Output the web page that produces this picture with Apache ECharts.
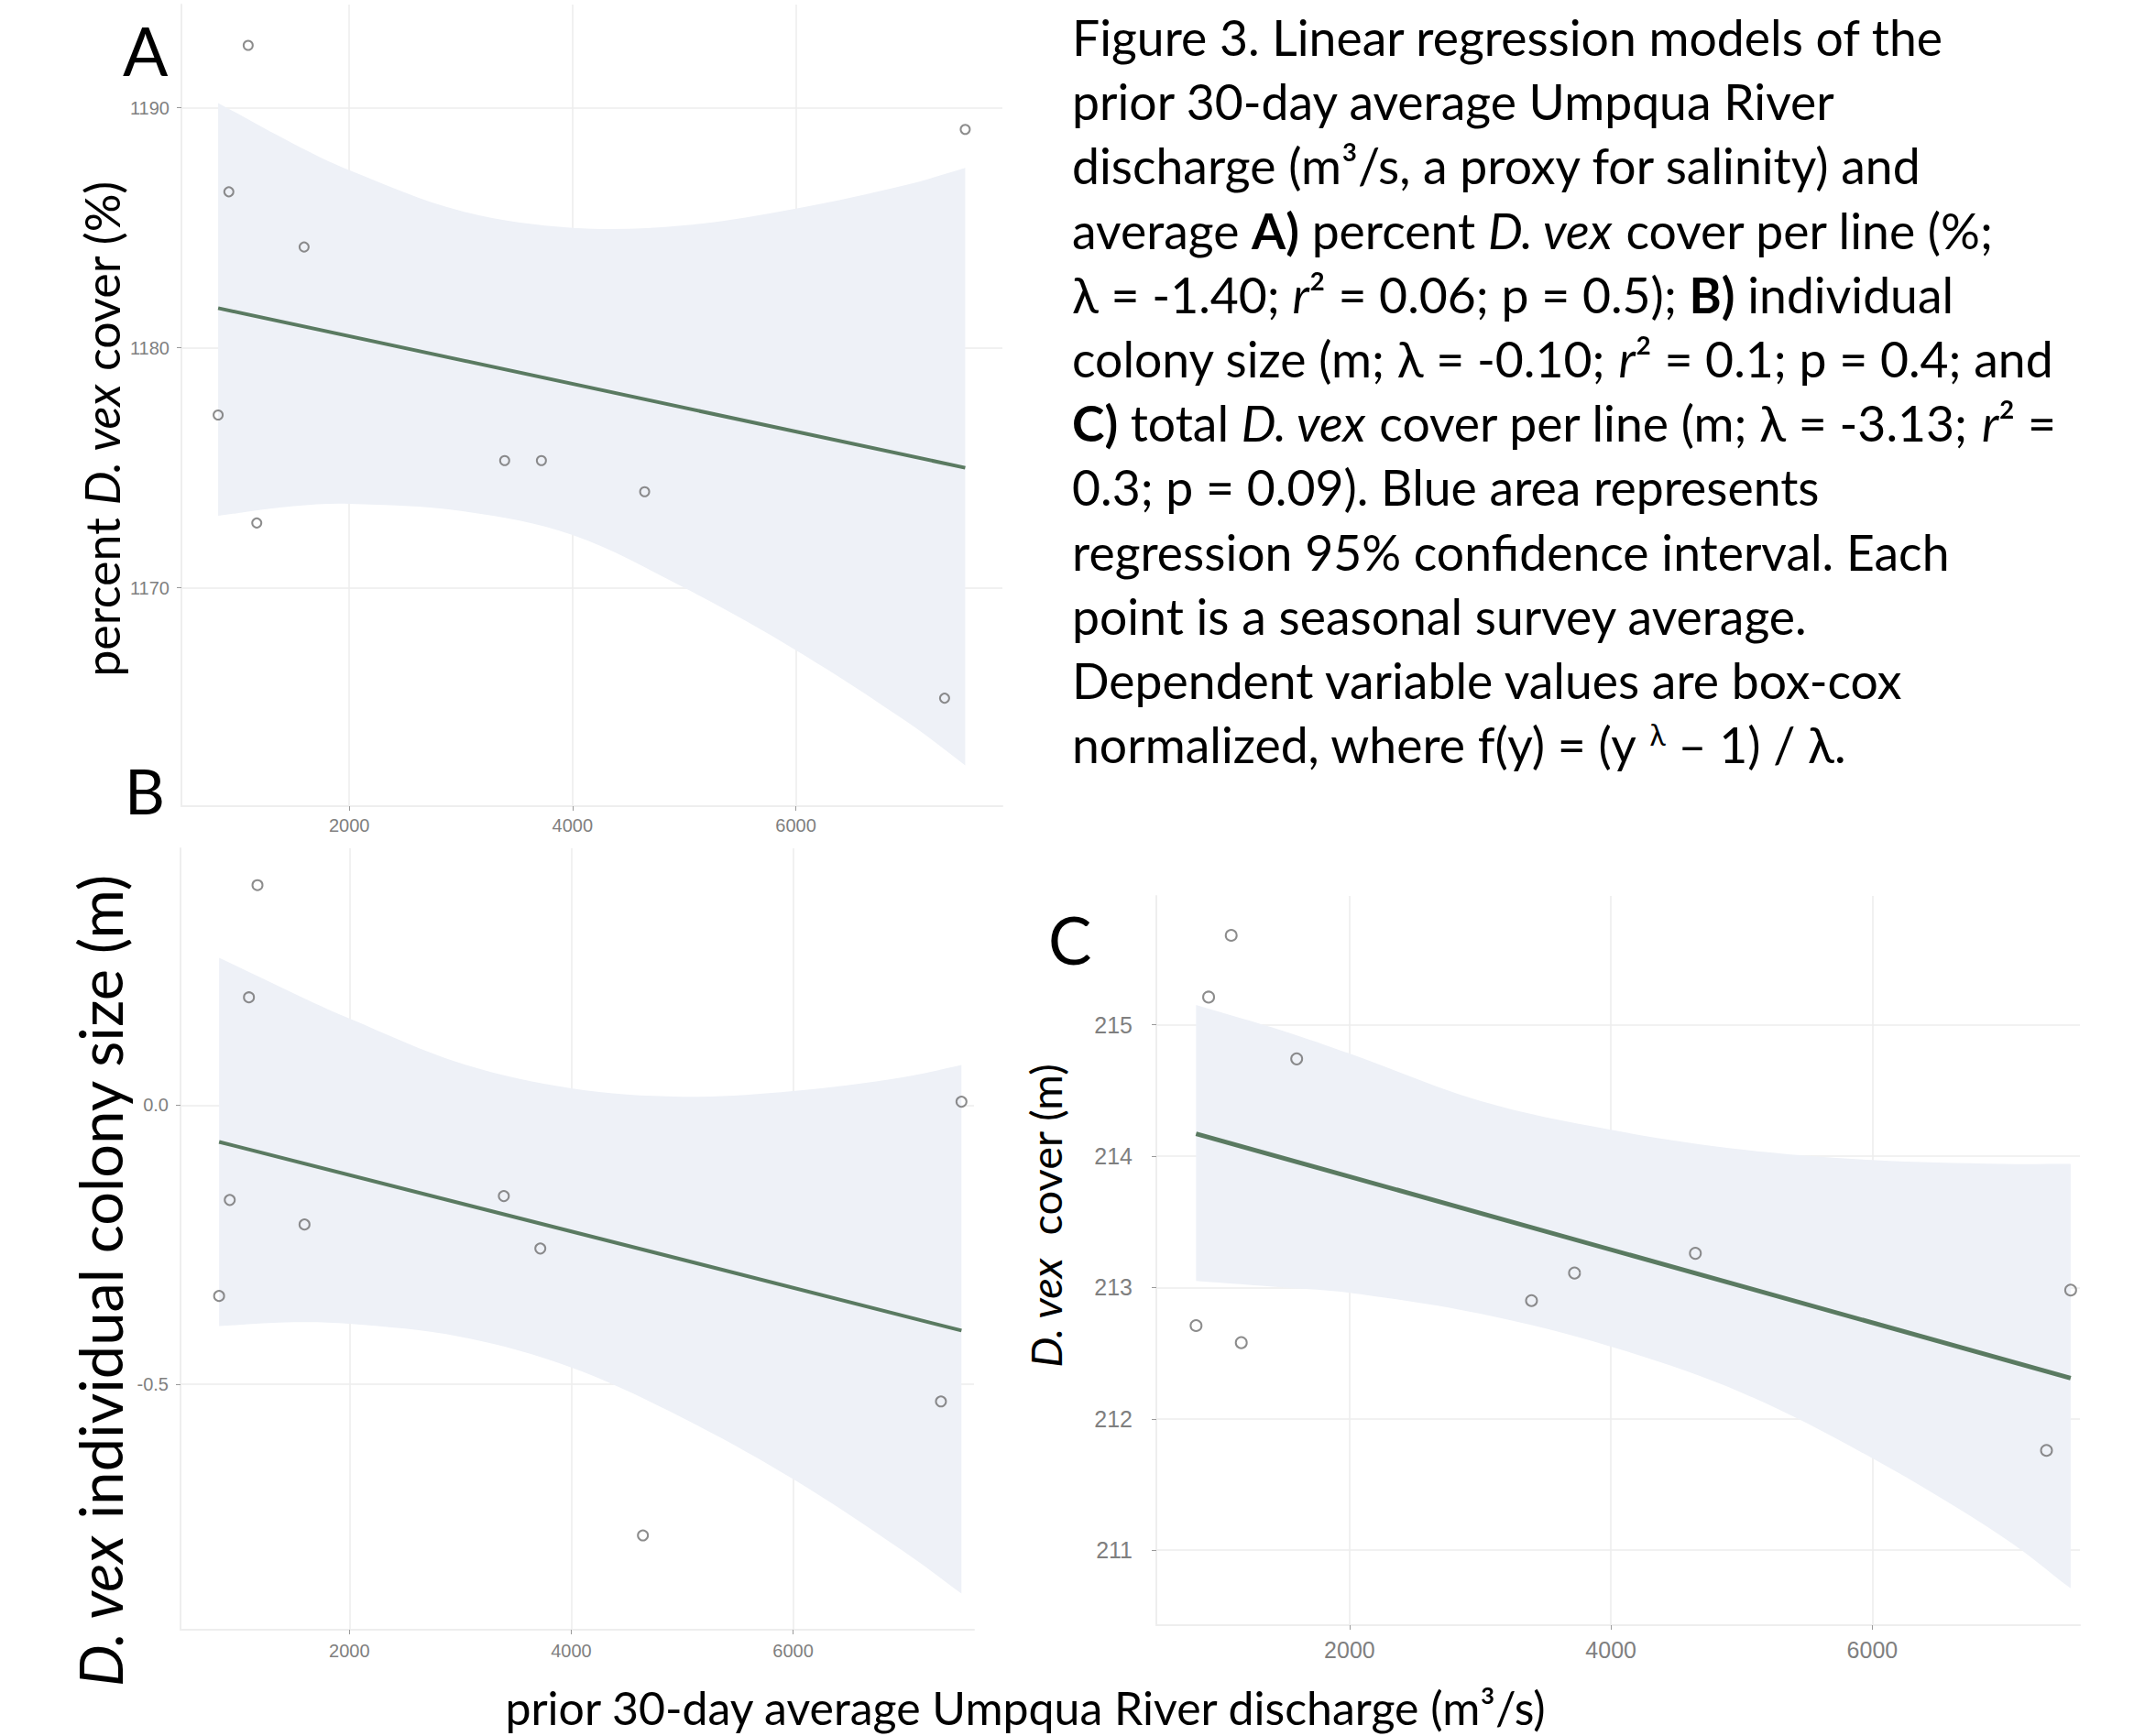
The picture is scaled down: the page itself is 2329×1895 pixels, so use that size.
<!DOCTYPE html>
<html>
<head>
<meta charset="utf-8">
<title>Umpqua River discharge regressions</title>
<script src="https://cdn.jsdelivr.net/npm/echarts@6.0.0/dist/echarts.min.js"></script>
<style>
    body { margin: 0; background: #fff; }
    #chart { width: 2329px; height: 1895px; }
</style>
</head>
<body>
<div id="chart"></div>
<script>
// prior 30-day average discharge (m3/s) for each seasonal survey, same in all panels
var discharge = [825, 921, 1094, 1171, 1595, 3392, 3721, 4646, 7333, 7518];

// box-cox normalized responses
var coverPct   = [1177.2, 1186.5, 1192.6, 1172.7, 1184.2, 1175.3, 1175.3, 1174.0, 1165.4, 1189.1]; // A
var colonySize = [-0.342, -0.170, 0.193, 0.394, -0.214, -0.163, -0.257, -0.771, -0.531, 0.006]; // B
var totalCover = [212.71, 215.21, 215.68, 212.58, 214.74, 212.90, 213.11, 213.26, 211.76, 212.98]; // C

// fitted line ends
var fitX = [825, 7518];
var fitA = [1181.65, 1175.0];
var fitB = [-0.066, -0.404];
var fitC = [214.17, 212.31];

// 95% confidence band, read at these discharges
var bandX  = [825, 1500, 2000, 3000, 4000, 5000, 6000, 7000, 7518];
var upperA = [1190.2, 1188.5, 1187.4, 1185.7, 1185.0, 1185.1, 1185.8, 1186.8, 1187.5];
var lowerA = [1173.0, 1173.4, 1173.5, 1173.2, 1172.2, 1170.0, 1167.4, 1164.4, 1162.6];
var upperB = [0.264, 0.200, 0.155, 0.075, 0.030, 0.015, 0.025, 0.050, 0.072];
var lowerB = [-0.396, -0.389, -0.392, -0.415, -0.470, -0.560, -0.670, -0.800, -0.875];
var upperC = [215.15, 214.95, 214.78, 214.42, 214.20, 214.05, 213.97, 213.94, 213.94];
var lowerC = [213.05, 213.00, 212.96, 212.80, 212.55, 212.20, 211.70, 211.10, 210.71];

// tick labels
var xTicks  = [2000, 4000, 6000];
var yTicksA = [1170, 1180, 1190];
var yTicksB = [-0.5, 0.0];
var yTicksC = [211, 212, 213, 214, 215];

var captionLines = [
    'Figure 3. Linear regression models of the',
    'prior 30-day average Umpqua River',
    'discharge (m\u00b3/s, a proxy for salinity) and',
    'average {b|A)} percent {i|D. vex} cover per line (%;',
    '\u03bb = -1.40; {i|r}\u00b2 = 0.06; p = 0.5); {b|B)} individual',
    'colony size (m; \u03bb = -0.10; {i|r}\u00b2 = 0.1; p = 0.4; and',
    '{b|C)} total {i|D. vex} cover per line (m; \u03bb = -3.13; {i|r}\u00b2 =',
    '0.3; p = 0.09). Blue area represents',
    'regression 95% confidence interval. Each',
    'point is a seasonal survey average.',
    'Dependent variable values are box-cox',
    'normalized, where f(y) = (y {sup|\u03bb} \u2013 1) / \u03bb.'
];

var FONT = 'Lato, "Noto Sans", sans-serif';
var TICKFONT = '"Liberation Sans", Arial, sans-serif';
var LINE = '#5a7a61';
var BAND = '#eef1f7';
var DOT = '#6f6f6f';

function pairs(xs, ys) {
    return xs.map(function (x, i) { return [x, ys[i]]; });
}

function richFor(size) {
    return {
        b: { fontFamily: FONT, fontSize: size, fontWeight: 'bold', fill: '#000' },
        i: { fontFamily: FONT, fontSize: size, fontStyle: 'italic', fill: '#000' },
        sup: { fontFamily: FONT, fontSize: Math.round(size * 0.6), verticalAlign: 'top', fill: '#000' }
    };
}

function xAxisFor(gi, min, max, size, margin) {
    return {
        type: 'value', gridIndex: gi, min: min, max: max,
        axisLine: { show: true, onZero: false, lineStyle: { color: '#eeeeee', width: 2 } },
        axisTick: { show: true, customValues: xTicks, length: 5, lineStyle: { color: '#9a9a9a' } },
        axisLabel: { customValues: xTicks, fontSize: size, fontFamily: TICKFONT, color: '#7f7f7f', margin: margin,
            formatter: function (v) { return String(v); } },
        splitLine: { show: true, lineStyle: { color: '#ececec', width: 1.5 } }
    };
}

function yAxisFor(gi, min, max, ticks, size, margin, digits) {
    return {
        type: 'value', gridIndex: gi, min: min, max: max,
        axisLine: { show: true, onZero: false, lineStyle: { color: '#eeeeee', width: 2 } },
        axisTick: { show: true, customValues: ticks, length: 5, lineStyle: { color: '#9a9a9a' } },
        axisLabel: { customValues: ticks, fontSize: size, fontFamily: TICKFONT, color: '#7f7f7f', margin: margin,
            formatter: function (v) { return v.toFixed(digits); } },
        splitLine: { show: true, lineStyle: { color: '#ececec', width: 1.5 } }
    };
}

function bandSeries(gi, up, lo) {
    return {
        type: 'custom', xAxisIndex: gi, yAxisIndex: gi, silent: true, z: 1,
        data: [0],
        renderItem: function (params, api) {
            var u = bandX.map(function (x, i) { return api.coord([x, up[i]]); });
            var l = bandX.map(function (x, i) { return api.coord([x, lo[i]]); }).reverse();
            // doubled corners keep the band ends square while the edges are smoothed
            var pts = [u[0]].concat(u, [u[u.length - 1], l[0]], l, [l[l.length - 1]]);
            return {
                type: 'polygon',
                shape: { points: pts, smooth: 0.35 },
                style: { fill: BAND, stroke: null }
            };
        }
    };
}

function fitSeries(gi, ys, width) {
    return {
        type: 'line', xAxisIndex: gi, yAxisIndex: gi, z: 3, silent: true,
        data: pairs(fitX, ys), showSymbol: false,
        lineStyle: { color: LINE, width: width }
    };
}

function dotSeries(gi, ys, size) {
    return {
        type: 'scatter', xAxisIndex: gi, yAxisIndex: gi, z: 4,
        data: pairs(discharge, ys), symbol: 'circle', symbolSize: size,
        itemStyle: { color: 'rgba(255,255,255,0)', borderColor: DOT, borderWidth: 2 }
    };
}

function label(text, x, y, size, rot) {
    return {
        type: 'text', x: x, y: y, rotation: rot || 0,
        style: {
            text: text, fontFamily: FONT, fontSize: size, fill: '#000',
            align: 'center', verticalAlign: 'middle', rich: richFor(size)
        }
    };
}

var graphics = [
    { type: 'text', x: 134, y: 55, style: { text: 'A', fontFamily: FONT, fontSize: 73, fill: '#000', verticalAlign: 'middle' } },
    { type: 'text', x: 136, y: 862, style: { text: 'B', fontFamily: FONT, fontSize: 68, fill: '#000', verticalAlign: 'middle' } },
    { type: 'text', x: 1144, y: 1025, style: { text: 'C', fontFamily: FONT, fontSize: 71, fill: '#000', verticalAlign: 'middle' } },
    label('percent {i|D. vex} cover (%)', 111, 468, 52, Math.PI / 2),
    label('{i|D. vex} individual colony size (m)', 109, 1398, 65, Math.PI / 2),
    label('{i|D. vex}  cover (m)', 1141, 1327, 47, Math.PI / 2),
    label('prior 30-day average Umpqua River discharge (m\u00b3/s)', 1119, 1864, 50)
];
captionLines.forEach(function (t, i) {
    graphics.push({
        type: 'text', x: 1170, y: 40 + i * 70.2,
        style: {
            text: t, fontFamily: FONT, fontSize: 53.5, fill: '#000',
            align: 'left', verticalAlign: 'middle', rich: richFor(53.5)
        }
    });
});

var option = {
    backgroundColor: '#fff',
    animation: false,
    grid: [
        { left: 198, top: 5, width: 896, height: 875 },
        { left: 197, top: 926, width: 866, height: 853 },
        { left: 1262, top: 978, width: 1008, height: 796 }
    ],
    xAxis: [
        xAxisFor(0, 496, 7851, 20, 11),
        xAxisFor(1, 477, 7631, 20, 13),
        xAxisFor(2, 521, 7589, 25, 14)
    ],
    yAxis: [
        yAxisFor(0, 1160.9, 1194.3, yTicksA, 20, 13, 0),
        yAxisFor(1, -0.94, 0.46, yTicksB, 20, 13, 1),
        yAxisFor(2, 210.43, 215.98, yTicksC, 25, 26, 0)
    ],
    series: [
        bandSeries(0, upperA, lowerA), fitSeries(0, fitA, 4), dotSeries(0, coverPct, 10),
        bandSeries(1, upperB, lowerB), fitSeries(1, fitB, 4), dotSeries(1, colonySize, 11),
        bandSeries(2, upperC, lowerC), fitSeries(2, fitC, 5), dotSeries(2, totalCover, 12)
    ],
    graphic: graphics
};

var myChart = echarts.init(document.getElementById('chart'), null, { renderer: 'svg' });
myChart.setOption(option);
</script>
</body>
</html>
